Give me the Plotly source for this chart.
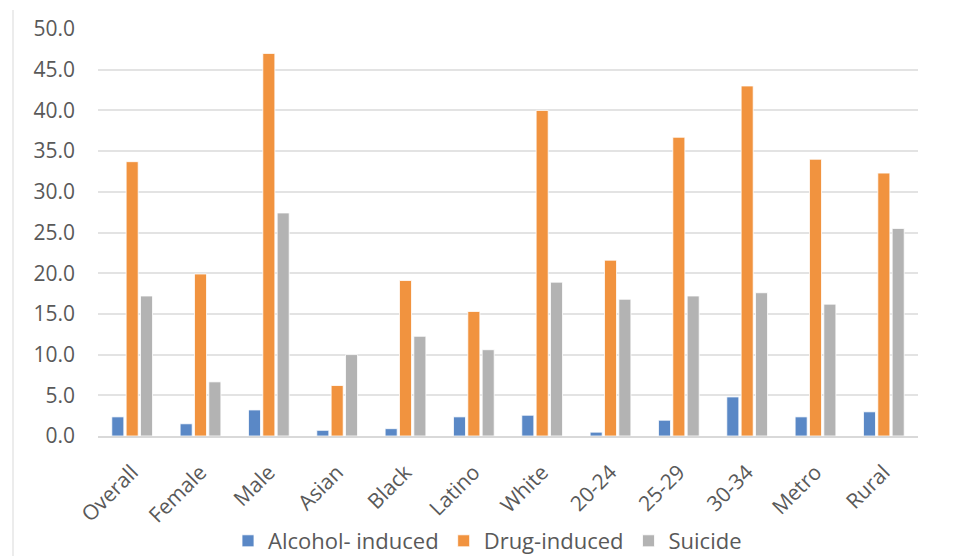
import plotly.graph_objects as go

categories = ["Overall", "Female", "Male", "Asian", "Black", "Latino", "White",
              "20-24", "25-29", "30-34", "Metro", "Rural"]
alcohol = [2.35, 1.5, 3.2, 0.7, 0.9, 2.35, 2.55, 0.47, 1.94, 4.8, 2.35, 2.97]
drug = [33.7, 19.9, 47.0, 6.2, 19.1, 15.3, 40.0, 21.6, 36.7, 43.0, 34.0, 32.3]
suicide = [17.2, 6.65, 27.4, 10.0, 12.25, 10.6, 18.9, 16.8, 17.2, 17.6, 16.2, 25.5]
y_ticks = [0, 5, 10, 15, 20, 25, 30, 35, 40, 45, 50]

series = [
    ("Alcohol- induced", alcohol, "#5a88c6"),
    ("Drug-induced", drug, "#f1933f"),
    ("Suicide", suicide, "#b3b3b3"),
]

# The page body has an 8px margin, so the figure is 8px smaller on each axis
W, H = 949, 548
ML, MR, MT, MB = 90, 39, 21, 120
PW, PH = W - ML - MR, H - MT - MB

FONT = "Open Sans"
fig = go.Figure()
for name, vals, col in series:
    fig.add_trace(go.Bar(
        x=categories, y=vals, name=name,
        marker=dict(color=col, line=dict(color="white", width=0.8)),
    ))

def px_x(px):
    return (px - 8 - ML) / PW

def px_y(py):
    return (H - MB - (py - 8)) / PH

fig.update_layout(
    width=W, height=H,
    margin=dict(l=ML, r=MR, t=MT, b=MB, autoexpand=False),
    paper_bgcolor="white", plot_bgcolor="white",
    barmode="group", bargap=0.37, bargroupgap=0.16,
    font=dict(family=FONT, color="#595959", size=21),
    showlegend=True,
    legend=dict(orientation="h", x=0.475, xanchor="center", y=px_y(541), yanchor="middle",
                font=dict(size=22, color="#595959"), itemwidth=30,
                traceorder="normal"),
    shapes=[
        dict(type="line", xref="paper", yref="paper",
             x0=px_x(13), x1=px_x(13), y0=px_y(10), y1=px_y(556),
             line=dict(color="#e6e6e6", width=1.5)),
        dict(type="line", xref="paper", yref="paper",
             x0=px_x(954), x1=px_x(954), y0=px_y(8), y1=px_y(556),
             line=dict(color="#e6e6e6", width=1.5)),
    ],
)
fig.update_xaxes(
    tickangle=-45, tickfont=dict(size=21, color="#595959"),
    showline=True, linecolor="#d9d9d9", linewidth=1.5,
    showgrid=False, ticks="", automargin=False, ticklabelstandoff=14,
)
fig.update_yaxes(
    range=[0, 50], tickvals=y_ticks, tickformat=".1f",
    showgrid=True, gridcolor="#e3e3e3", gridwidth=1.5,
    zeroline=False, showline=False, ticks="", automargin=False,
    tickfont=dict(size=21, color="#595959"), ticklabelstandoff=22,
)

fig.write_html("out.html")
